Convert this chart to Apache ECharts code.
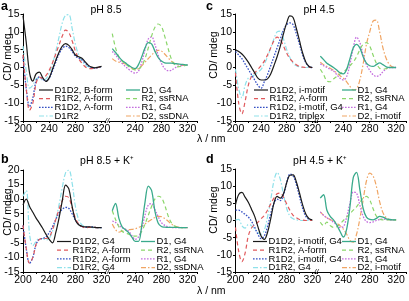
<!DOCTYPE html>
<html><head><meta charset="utf-8">
<script src="https://cdn.jsdelivr.net/npm/echarts@6/dist/echarts.min.js"></script>
<style>html,body{margin:0;padding:0;background:#fff}#c{width:409px;height:301px}</style>
</head><body><div id="c"></div>
<script>
// ---------- data ----------
const wlL = [200,205,210,215,220,225,230,235,240,245,250,255,260,265,270,275,280,285,290,295,300,305,310,315,320];
const wlR = [205,210,215,220,225,230,235,240,245,250,255,260,265,270,275,280,285,290,295,300,305,310,315,320];
const xTicks = [200,240,280,320];

// panel a (pH 8.5)
const aNamesL = ['D1D2, B-form','R1R2, A-form','R1D2, A-form','D1R2'];
const aNamesR = ['D1, G4','R2, ssRNA','R1, G4','D2, ssDNA'];
const aD1D2 = [14.5,7,-1.5,-3.8,-1.8,-1.3,-2.8,-3.9,-2.9,-0.5,2,4.3,6,6.7,6.2,5,3.5,3.0,2.6,1.6,0.6,0.1,-0.1,0.1,0.3];
const aR1R2 = [3.5,-6,-12,-10,-4.5,-2.7,-3,-2.3,-0.8,1.3,3.8,6.3,8.8,10.5,9.8,7.5,4.6,2.5,1.2,0.2,-0.3,-0.3,-0.2,0,0.3];
const aR1D2 = [3,-6,-11,-8.5,-3.8,-2.6,-3.3,-3.8,-3,-1,1.5,3.8,5.3,6,5.6,4.5,3.2,2.6,2.2,1.3,0.4,-0.1,-0.2,0,0.2];
const aD1R2 = [6,-1,-5.8,-5,-3.2,-3,-3.5,-3.2,-1.5,1,4.5,8.5,12.5,14.6,14.8,11,6.5,3.5,1.8,0.8,0.2,0,0,0,0.2];
const aD1 = [5.3,4.2,3,2,1.3,0.6,0,-0.3,0.8,3,5.5,7,6.6,4.6,2.8,1.8,1.3,1.2,1.2,1.1,1,0.9,0.8,0.7];
const aR2 = [9.5,5.5,3,1.8,1,0.3,-0.3,-0.7,-0.5,0.5,2.5,5.5,8.8,11.2,12.2,11.5,8.8,5.5,2.5,0.8,0.2,0.3,0.5,0.7];
const aR1 = [4.5,3.5,2.3,1.2,0.3,-0.5,-1.2,-1.6,-1,1.5,5,8,8.6,6.5,3.5,1.2,-0.3,-0.9,-0.8,-0.2,0.3,0.5,0.6,0.7];
const aD2 = [2.5,1.8,1.5,1.2,1,0.5,-0.2,-0.6,-0.3,0.5,1.5,2.5,3.5,4.3,4.8,4.6,3.8,2.8,1.8,1.2,0.8,0.6,0.6,0.7];

// panel b (pH 8.5 + K+)
const bNamesL = ['D1D2, G4','R1R2, A-form','R1D2, A-form','D1R2, G4'];
const bNamesR = ['D1, G4','R2, ssRNA','R1, G4','D2, ssDNA'];
const bD1D2 = [8,10,7.5,5.5,3.5,1.8,0,-2,-3.8,-5,-1.5,3.5,9.5,14.8,13.5,7.5,2.8,1.2,0.7,0.5,0.5,0.4,0.3,0.2,0.2];
const bR1R2 = [1,-7,-12,-10,-5.5,-3.8,-3.5,-3.5,-3,-0.5,3,6.5,9.5,11,10.5,7,3.5,1.5,0.6,0.2,0.3,0.4,0.3,0.2,0.2];
const bR1D2 = [1,-7,-12,-10,-5.5,-3.8,-3.5,-3,-1.5,0.5,3,5.2,6.5,7.2,6.8,5,2.8,1.3,0.6,0.3,0.5,0.5,0.3,0.2,0.2];
const bD1R2 = [11,13,-2,-6,-4.5,-3.5,-3.5,-4,-3.5,-1,3,8,14,19,20,15.5,7.5,3,1.2,0.6,0.4,0.3,0.2,0.2,0.2];
const bD1 = [6,8.5,3.5,0.5,-0.5,-1.5,-3,-4.5,-4.5,1,9,14.5,13,6,1.8,0.6,0.4,0.3,0.3,0.3,0.3,0.2,0.2,0.2];
const bR2 = [6,3,0.5,-1,-1.6,-2,-2.5,-2.7,-2.5,-1,1.5,4.5,7.5,10,11,10.5,8,4.5,2,0.8,0.3,0.2,0.2,0.2];
const bR1 = [2.5,2,1,0.2,-0.3,-1,-2.5,-3.8,-3,0,4.5,8,8.5,6.5,4,2,1,0.5,0.3,0.2,0.2,0.2,0.2,0.2];
const bD2 = [1.5,-0.5,-1.3,-1,-0.6,-0.5,-0.4,-0.2,0.3,0.8,1.5,2.3,3,3.7,4.1,4,3.4,2.5,1.5,0.8,0.4,0.3,0.2,0.2];

// panel c (pH 4.5)
const cNamesL = ['D1D2, i-motif','R1R2, A-form','R1D2, i-motif, G4','D1R2, triplex'];
const cNamesR = ['D1, G4','R2, ssRNA','R1, G4','D2, i-motif'];
const cD1D2 = [5,4.5,3.8,2.8,1.5,0,-1.5,-3,-3.5,-3.5,-3.2,-1.8,0.5,3,6,9.5,12.5,14.5,14,11,7.5,4,1.5,0.3,0];
const cR1R2 = [-1.5,-10,-13,-9.5,-5,-2.5,-1.5,-0.5,0.5,1.8,3.5,5.5,7.5,8.5,7.8,6,4,2.5,1.5,0.8,0.3,0.1,0,0,0];
const cR1D2 = [4.5,3.5,2.5,1,-0.5,-2,-3.5,-5,-5.8,-4,-2,0.5,3,5.5,8,10.5,12,12.5,12,9.5,6.5,3.5,1.3,0.2,0];
const cD1R2 = [-0.5,-6,-8.5,-5,-3,-2.5,-2,-1.3,-0.5,1,3,5.5,8,10,10.2,8,5,2.8,1.2,0.5,0.2,0,0,0,0];
const cD1 = [3.2,2.2,1.2,0.6,0,-0.7,-1.5,-1.8,-0.5,2.5,5.5,6.5,5.5,3,1.2,0.5,0.3,0.8,1.3,0.8,0.2,0,0,0];
const cR2 = [-0.5,-2,-3.8,-4,-3.2,-2.5,-1.8,-1.2,-0.5,0.5,1.5,3,5,6.5,7,6,3.5,1.2,-0.2,-0.5,-0.3,0,0,0];
const cR1 = [1,0.5,0,-0.5,-1,-2,-3,-3.5,-2.5,1,5.5,8.5,7,3.5,0.8,-0.8,-2,-2.5,-2.2,-1.2,-0.4,0,0,0];
const cD2 = [1.5,0.8,0.3,-0.2,-0.8,-1.5,-2.3,-3,-4,-5.3,-6.3,-6,-3.5,1,6.5,10,13,13.3,10,5.5,2.5,0.8,0.1,0];

// panel d (pH 4.5 + K+)
const dNamesL = ['D1D2, i-motif, G4','R1R2, A-form','R1D2, i-motif, G4','D1R2, G4'];
const dNamesR = ['D1, G4','R2, ssRNA','R1, G4','D2, i-motif'];
const dD1D2 = [4.6,7.6,8.2,6.8,5.3,3.3,1.2,-1.8,-4.5,-5.5,-3.5,0.5,5,7,6.5,7.8,11,13.2,13.3,11.3,8,4.5,1.8,0.5,0.2];
const dR1R2 = [-2,-9,-12,-9.5,-4.5,-2.2,-1.2,-0.5,0.5,1.5,3,4.8,6.5,7.8,8,6.8,4.8,3,1.5,0.8,0.3,0.1,0,0,0];
const dR1D2 = [3,3,2.5,1.8,1,-0.2,-2,-4,-5.3,-4.5,-1.8,2,5,6.2,5.8,7.5,11,13.5,13,10.5,7,3.5,1.2,0.3,0.2];
const dD1R2 = [0.2,0.3,-1.5,-2.2,-1.2,-1.5,-2.5,-3.5,-4,-2.8,1,6,11.5,14,12,7.5,3.5,1.3,0.5,0.2,0.1,0,0,0,0];
const dD1 = [6.5,7.5,3,1.2,0.2,-1.3,-3.2,-4.8,-2.5,4,12.5,14,9,3.5,1,0.3,0.2,0.6,1.2,1,0.5,0.3,0.2,0.2];
const dR2 = [-0.5,-1.5,-0.5,-1.5,-2,-1.8,-1,0,1,2,3,4,5.3,6.5,7,6,3.5,1.3,0.4,0.2,0.2,0.2,0.2,0.2];
const dR1 = [2.5,1.5,0.8,0.2,-0.5,-1.3,-2,-1.8,1,5,8.3,8,4.5,1.2,-0.3,-0.6,-0.4,0,0.3,0.4,0.3,0.2,0.2,0.2];
const dD2 = [2.5,1.5,0.8,0.3,-0.2,-0.8,-1.5,-2.5,-4,-5.8,-6.3,-4,0.5,6,11.5,13.8,13,10,5.5,2.3,0.8,0.3,0.2,0.2];

// ---------- styles ----------
const STY = {
  D1D2:{color:'#1a1a1a', type:'solid', width:1.2},
  R1R2:{color:'#e0595c', type:[4,3], width:1.2},
  R1D2:{color:'#3550c4', type:[1.6,1.4], width:1.3},
  D1R2:{color:'#8fe1ea', type:[5,2,1.5,2], width:1.2},
  D1:{color:'#3aaa8c', type:'solid', width:1.3},
  R2:{color:'#8bd66b', type:[4,3], width:1.2},
  R1:{color:'#c46ede', type:[1.6,1.4], width:1.3},
  D2:{color:'#f0a564', type:[5,2,1.5,2], width:1.2}
};
const FONT = 'Liberation Sans, Arial, sans-serif';

const panels = [
  {L:[aD1D2,aR1R2,aR1D2,aD1R2], R:[aD1,aR2,aR1,aD2], nL:aNamesL, nR:aNamesR,
   xl:23, sl:0.655, xr:109, sr:0.655, top:14, bot:121, ymin:-15, ymax:15,
   legL:39, legR:126, rows:[90,98.7,107.3,116], title:'pH 8.5', tx:106, ty:11, letter:'a', lx:1, ly:0, nameX:8, nameY:57},
  {L:[bD1D2,bR1R2,bR1D2,bD1R2], R:[bD1,bR2,bR1,bD2], nL:bNamesL, nR:bNamesR,
   xl:23, sl:0.655, xr:109, sr:0.655, top:170, bot:272, ymin:-15, ymax:20,
   legL:57, legR:141, rows:[241.5,250.2,258.9,267.6], title:'pH 8.5 + K\u207A', tx:107, ty:162, letter:'b', lx:1, ly:153, nameX:8, nameY:212},
  {L:[cD1D2,cR1R2,cR1D2,cD1R2], R:[cD1,cR2,cR1,cD2], nL:cNamesL, nR:cNamesR,
   xl:235.5, sl:0.64, xr:317, sr:0.66, top:14, bot:121, ymin:-15, ymax:15,
   legL:254, legR:342, rows:[90,98.7,107.3,116], title:'pH 4.5', tx:319, ty:11, letter:'c', lx:206, ly:0, nameX:214, nameY:55},
  {L:[dD1D2,dR1R2,dR1D2,dD1R2], R:[dD1,dR2,dR1,dD2], nL:dNamesL, nR:dNamesR,
   xl:235.5, sl:0.64, xr:317, sr:0.66, top:169, bot:272, ymin:-15, ymax:15,
   legL:253, legR:342, rows:[241.5,250.2,258.9,267.6], title:'pH 4.5 + K\u207A', tx:320, ty:162, letter:'d', lx:206, ly:153, nameX:214, nameY:210}
];
const keysL = ['D1D2','R1R2','R1D2','D1R2'];
const keysR = ['D1','R2','R1','D2'];

const grid=[], xAxis=[], yAxis=[], series=[], title=[], graphic=[];
function pairs(wl, v){ return wl.map((w,i)=>[w, v[i]]); }
function xa(gi, max, hide200){
  return {gridIndex:gi, type:'value', min:200, max:max, interval:20,
    axisLine:{onZero:false, lineStyle:{color:'#000', width:1}},
    axisTick:{show:true, length:2, lineStyle:{color:'#000'}},
    splitLine:{show:false},
    axisLabel:{margin:3, fontSize:10.5, color:'#000', fontFamily:FONT,
      formatter:function(v){ if (xTicks.indexOf(v)<0) return ''; if (hide200 && v===200) return ''; return String(v);} }};
}
function legendRows(names, keys, x0, rows){
  names.forEach((n,i)=>{
    const s = STY[keys[i]];
    const y = rows[i];
    graphic.push({type:'line', z:50, shape:{x1:x0, y1:y, x2:x0+14, y2:y},
      style:{stroke:s.color, lineWidth:s.width, lineDash: s.type==='solid'?null:s.type}});
    graphic.push({type:'text', z:50, x:x0+15.5, y:y,
      style:{text:n, fill:'#000', font:'9.5px '+FONT, align:'left', verticalAlign:'middle'}});
  });
}
panels.forEach((p,pi)=>{
  const h = p.bot - p.top;
  const gl = grid.length;
  grid.push({left:p.xl, top:p.top, width:125*p.sl, height:h});
  grid.push({left:p.xr, top:p.top, width:135*p.sr, height:h});
  xAxis.push(xa(gl, 325, false));
  xAxis.push(xa(gl+1, 335, true));
  yAxis.push({gridIndex:gl, type:'value', min:p.ymin, max:p.ymax, interval:5,
    axisLine:{show:true, lineStyle:{color:'#000', width:1}},
    axisTick:{show:true, length:2.5, lineStyle:{color:'#000'}},
    splitLine:{show:false},
    axisLabel:{margin:3.5, fontSize:10.5, color:'#000', fontFamily:FONT}});
  yAxis.push({gridIndex:gl+1, type:'value', min:p.ymin, max:p.ymax, show:false, splitLine:{show:false}});
  p.L.forEach((v,i)=>{
    const s = STY[keysL[i]];
    series.push({type:'line', name:p.nL[i], xAxisIndex:gl, yAxisIndex:gl, data:pairs(wlL, v),
      symbol:'none', smooth:0.35, color:s.color, lineStyle:{color:s.color, type:s.type, width:s.width}, z:3+(3-i)});
  });
  p.R.forEach((v,i)=>{
    const s = STY[keysR[i]];
    series.push({type:'line', name:p.nR[i], xAxisIndex:gl+1, yAxisIndex:gl+1, data:pairs(wlR, v),
      symbol:'none', smooth:0.35, color:s.color, lineStyle:{color:s.color, type:s.type, width:s.width}, z:3+(3-i)});
  });
  legendRows(p.nL, keysL, p.legL, p.rows);
  legendRows(p.nR, keysR, p.legR, p.rows);
  title.push({text:p.title, left:p.tx, top:p.ty-6, textAlign:'center', padding:0,
    textStyle:{fontSize:10.5, fontWeight:'normal', color:'#000', fontFamily:FONT}});
  title.push({text:p.letter, left:p.lx, top:p.ly, padding:0,
    textStyle:{fontSize:12.5, fontWeight:'bold', color:'#000', fontFamily:FONT}});
  graphic.push({type:'text', x:p.nameX, y:p.nameY, rotation:Math.PI/2,
    style:{text:'CD/ mdeg', fill:'#000', font:'10.5px '+FONT, align:'center', verticalAlign:'middle'}});
  graphic.push({type:'text', x:(p.xl+125*p.sl+p.xr)/2, y:p.bot,
    style:{text:'//', fill:'#000', font:'italic 8px '+FONT, align:'center', verticalAlign:'middle'}});
});
graphic.push({type:'text', x:197, y:139, style:{text:'\u03BB / nm', fill:'#000', font:'10.5px '+FONT, align:'left', verticalAlign:'middle'}});
graphic.push({type:'text', x:197, y:291, style:{text:'\u03BB / nm', fill:'#000', font:'10.5px '+FONT, align:'left', verticalAlign:'middle'}});

const chart = echarts.init(document.getElementById('c'), null, {renderer:'canvas'});
chart.setOption({animation:false, backgroundColor:'#fff', grid, xAxis, yAxis, series, title, graphic});
</script></body></html>
